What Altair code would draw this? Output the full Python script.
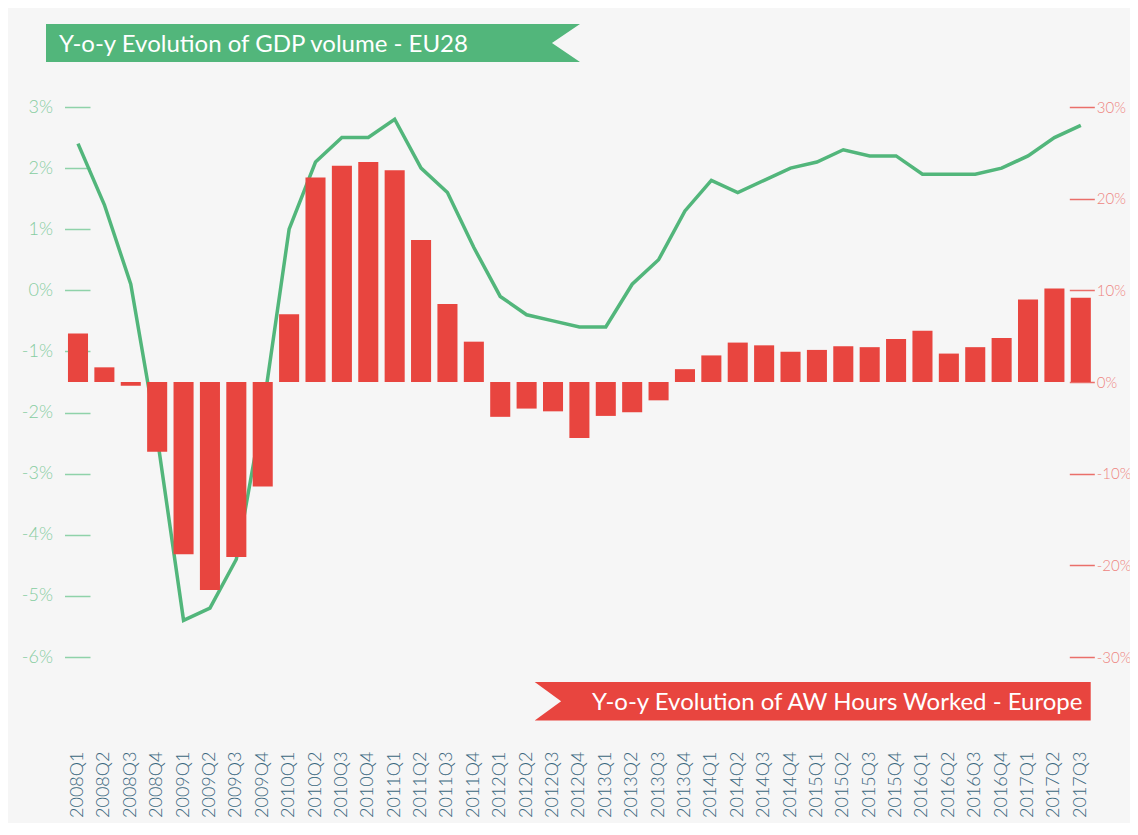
import altair as alt
import pandas as pd

quarters = [f"{y}Q{q}" for y in range(2008, 2018) for q in range(1, 5)][:39]

gdp_growth = [2.4, 1.4, 0.1, -2.4,
              -5.4, -5.2, -4.4, -2.0,
              1.0, 2.1, 2.5, 2.5,
              2.8, 2.0, 1.6, 0.7,
              -0.1, -0.4, -0.5, -0.6,
              -0.6, 0.1, 0.5, 1.3,
              1.8, 1.6, 1.8, 2.0,
              2.1, 2.3, 2.2, 2.2,
              1.9, 1.9, 1.9, 2.0,
              2.2, 2.5, 2.7]

hours_growth = [5.3, 1.6, -0.4, -7.6,
                -18.8, -22.7, -19.1, -11.4,
                7.4, 22.3, 23.6, 24.0,
                23.1, 15.5, 8.5, 4.4,
                -3.8, -2.9, -3.2, -6.1,
                -3.7, -3.3, -2.0, 1.4,
                2.9, 4.3, 4.0, 3.3,
                3.5, 3.9, 3.8, 4.7,
                5.6, 3.1, 3.8, 4.8,
                9.0, 10.2, 9.2]

left_ticks = [-6, -5, -4, -3, -2, -1, 0, 1, 2, 3]
right_ticks = [-30, -20, -10, 0, 10, 20, 30]

title_gdp = "Y-o-y Evolution of GDP volume - EU28"
title_hours = "Y-o-y Evolution of AW Hours Worked - Europe"

GREEN = "#52b67b"
RED = "#e8453f"
BG = "#f6f6f6"
FONT = "Lato"

df = pd.DataFrame({"quarter": quarters, "gdp": gdp_growth, "hours": hours_growth})

x_enc = alt.X(
    "quarter:N",
    sort=quarters,
    title=None,
    scale=alt.Scale(paddingInner=0.24, paddingOuter=0.12),
    axis=alt.Axis(
        labelAngle=-90, labelAlign="right", labelBaseline="middle",
        ticks=False, domain=False, labelPadding=94,
        labelFontSize=18, labelColor="#3b6880", labelFont=FONT,
        labelFontWeight=300,
    ),
)

line = alt.Chart(df).mark_line(color=GREEN, strokeWidth=3.5).encode(
    x=x_enc,
    y=alt.Y(
        "gdp:Q",
        title=None,
        scale=alt.Scale(domain=[-6, 3], nice=False, zero=False),
        axis=alt.Axis(
            orient="left", values=left_ticks, labelExpr="datum.value + '%'",
            domain=False, grid=False, offset=-25.2, tickSize=25.5,
            tickColor="#8fd2a9", tickWidth=1.5, labelPadding=12,
            labelFontSize=18, labelColor="#86cda1", labelFont=FONT,
            labelFontWeight=300,
        ),
    ),
)

bars = alt.Chart(df).mark_bar(color=RED).encode(
    x=x_enc,
    y=alt.Y(
        "hours:Q",
        title=None,
        scale=alt.Scale(domain=[-30, 30], nice=False),
        axis=alt.Axis(
            orient="right", values=right_ticks, labelExpr="datum.value + '%'",
            domain=False, grid=False, offset=-24.7, tickSize=25,
            tickColor="#ea6f6a", tickWidth=1.5, labelPadding=2,
            labelFontSize=15, labelColor="#ee857f", labelFont=FONT,
            labelFontWeight=300,
        ),
    ),
)

one = pd.DataFrame({"k": [0]})

green_banner = alt.Chart(one).mark_point(
    shape="M -1 -0.0712 L 1 -0.0712 L 0.895 0 L 1 0.0712 L -1 0.0712 Z",
    size=534 ** 2, filled=True, fill=GREEN, strokeWidth=0, opacity=1,
).encode(x=alt.value(248.2), y=alt.value(-64))

green_text = alt.Chart(one).mark_text(
    align="left", baseline="alphabetic", fontSize=24, color="white", font=FONT,
).encode(x=alt.value(-5.8), y=alt.value(-55), text=alt.value(title_gdp))

red_banner = alt.Chart(one).mark_point(
    shape="M -1 -0.0695 L 1 -0.0695 L 1 0.0695 L -1 0.0695 L -0.905 0 Z",
    size=556 ** 2, filled=True, fill=RED, strokeWidth=0, opacity=1,
).encode(x=alt.value(747.9), y=alt.value(594.3))

red_text = alt.Chart(one).mark_text(
    align="left", baseline="alphabetic", fontSize=24, color="white", font=FONT,
).encode(x=alt.value(527.2), y=alt.value(603), text=alt.value(title_hours))

chart = (
    alt.layer(line, bars, green_banner, green_text, red_banner, red_text)
    .resolve_scale(y="independent")
    .properties(
        width=1029.2,
        height=550,
        background=BG,
        autosize=alt.AutoSizeParams(type="none"),
        padding={"left": 56.8, "top": 99, "right": 36, "bottom": 166},
    )
    .configure_view(strokeWidth=0)
)

chart.save("out.html", embed_options={"renderer": "svg", "actions": False})
